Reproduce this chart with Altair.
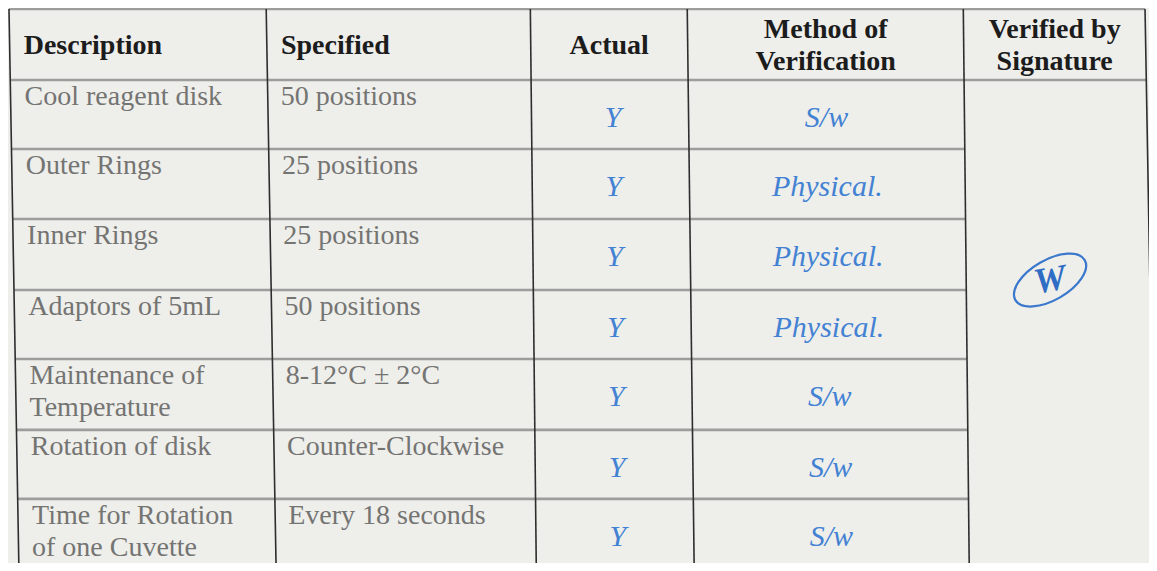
import altair as alt
import pandas as pd

# ---------------- content ----------------
headers = [["Description"], ["Specified"], ["Actual"],
           ["Method of", "Verification"], ["Verified by", "Signature"]]
descriptions = [["Cool reagent disk"], ["Outer Rings"], ["Inner Rings"],
                ["Adaptors of 5mL"], ["Maintenance of", "Temperature"],
                ["Rotation of disk"], ["Time for Rotation", "of one Cuvette"]]
specified = ["50 positions", "25 positions", "25 positions", "50 positions",
             "8-12°C  ± 2°C", "Counter-Clockwise", "Every 18 seconds"]
actual = ["Y", "Y", "Y", "Y", "Y", "Y", "Y"]
method = ["S/w", "Physical.", "Physical.", "Physical.", "S/w", "S/w", "S/w"]
signature = "W"

# ---------------- layout of the photographed sheet (page pixels) ----------------
COL_TOP = [5, 264, 530, 688, 966, 1149]     # column edges at the top line
COL_BOT = [15, 274, 536, 695, 972, 1159]    # column edges at the bottom (photo is skewed)
Y_TOP, Y_BOT = 5, 573
HEADER_BOTTOM = 77
ROW_TOPS = [77, 147, 218, 290, 360, 432, 502]


def col_x(c, y):
    return COL_TOP[c] + (COL_BOT[c] - COL_TOP[c]) * (y - Y_TOP) / (Y_BOT - Y_TOP)


def col_mid(c, y):
    return (col_x(c, y) + col_x(c + 1, y)) / 2


# vertical rules
vrules = pd.DataFrame([
    {"x": COL_TOP[c], "y": Y_TOP, "x2": COL_BOT[c], "y2": Y_BOT} for c in range(6)
])
# horizontal rules
hrows = []
for y in (Y_TOP, HEADER_BOTTOM):
    hrows.append({"x": col_x(0, y), "y": y, "x2": col_x(5, y), "y2": y})
for y in ROW_TOPS[1:]:
    hrows.append({"x": col_x(0, y), "y": y, "x2": col_x(4, y), "y2": y})
hrules = pd.DataFrame(hrows)

# header text
head_left = pd.DataFrame([
    {"x": col_x(c, 50) + 14, "y": 51, "t": headers[c]} for c in (0, 1)
])
head_center = pd.DataFrame([
    {"x": col_mid(c, 40), "y": 51 if len(headers[c]) == 1 else 34, "t": headers[c]}
    for c in (2, 3, 4)
])

# body text
body = []
for i, top in enumerate(ROW_TOPS):
    yb = top + 25
    body.append({"x": col_x(0, yb) + 14, "y": yb, "t": descriptions[i]})
    body.append({"x": col_x(1, yb) + 13, "y": yb, "t": [specified[i]]})
body = pd.DataFrame(body)

# handwritten entries
hand = []
for i, top in enumerate(ROW_TOPS):
    yc = top + 39
    hand.append({"x": col_mid(2, yc) + 3, "y": yc, "t": actual[i]})
    hand.append({"x": col_mid(3, yc), "y": yc, "t": method[i]})
hand = pd.DataFrame(hand)

sig_y = ROW_TOPS[3] - 10
sig = pd.DataFrame([{"x": col_mid(4, sig_y) - 8, "y": sig_y, "t": signature}])

xs = alt.Scale(domain=[4, 1153], nice=False, zero=False)
ys = alt.Scale(domain=[4, 567], nice=False, zero=False, reverse=True)


def enc(extra2=False):
    d = dict(x=alt.X("x:Q", scale=xs, axis=None), y=alt.Y("y:Q", scale=ys, axis=None))
    if extra2:
        d["x2"] = alt.X2("x2:Q")
        d["y2"] = alt.Y2("y2:Q")
    return d


v_layer = alt.Chart(vrules).mark_rule(color="#2e2e2e", strokeWidth=1.6, clip=True).encode(**enc(True))
h_layer = alt.Chart(hrules).mark_rule(color="#9d9d9b", strokeWidth=2.6, clip=True).encode(**enc(True))

SERIF = "Liberation Serif"
hl = alt.Chart(head_left).mark_text(font=SERIF, fontSize=28, fontWeight="bold", color="#1c1c1c",
                                    align="left", baseline="alphabetic", lineHeight=32).encode(
    text="t", **enc())
hc = alt.Chart(head_center).mark_text(font=SERIF, fontSize=28, fontWeight="bold", color="#1c1c1c",
                                      align="center", baseline="alphabetic", lineHeight=32).encode(
    text="t", **enc())
bt = alt.Chart(body).mark_text(font=SERIF, fontSize=28, color="#747472",
                               align="left", baseline="alphabetic", lineHeight=32).encode(
    text="t", **enc())
ht = alt.Chart(hand).mark_text(font=SERIF, fontSize=30, fontStyle="italic", color="#4382d3",
                               align="center", baseline="middle").encode(
    text="t", **enc())

ellipse = "M -1 0 A 1 0.5 0 1 0 1 0 A 1 0.5 0 1 0 -1 0 Z"
sg_ring = alt.Chart(sig).mark_point(shape=ellipse, size=6400, angle=330, filled=False,
                                    stroke="#3a78cc", strokeWidth=2.2, opacity=1).encode(**enc())
sg_txt = alt.Chart(sig).mark_text(font=SERIF, fontSize=36, fontStyle="italic", fontWeight="bold",
                                  color="#2f6cc4", align="center", baseline="middle", angle=350).encode(
    text="t", **enc())

chart = alt.layer(h_layer, v_layer, hl, hc, bt, ht, sg_ring, sg_txt).properties(
    width=1141, height=555, padding=0, autosize="none", background="#eeeeeb"
).configure_view(stroke=None)

chart.save("out.html", embed_options={"renderer": "svg", "actions": False})
